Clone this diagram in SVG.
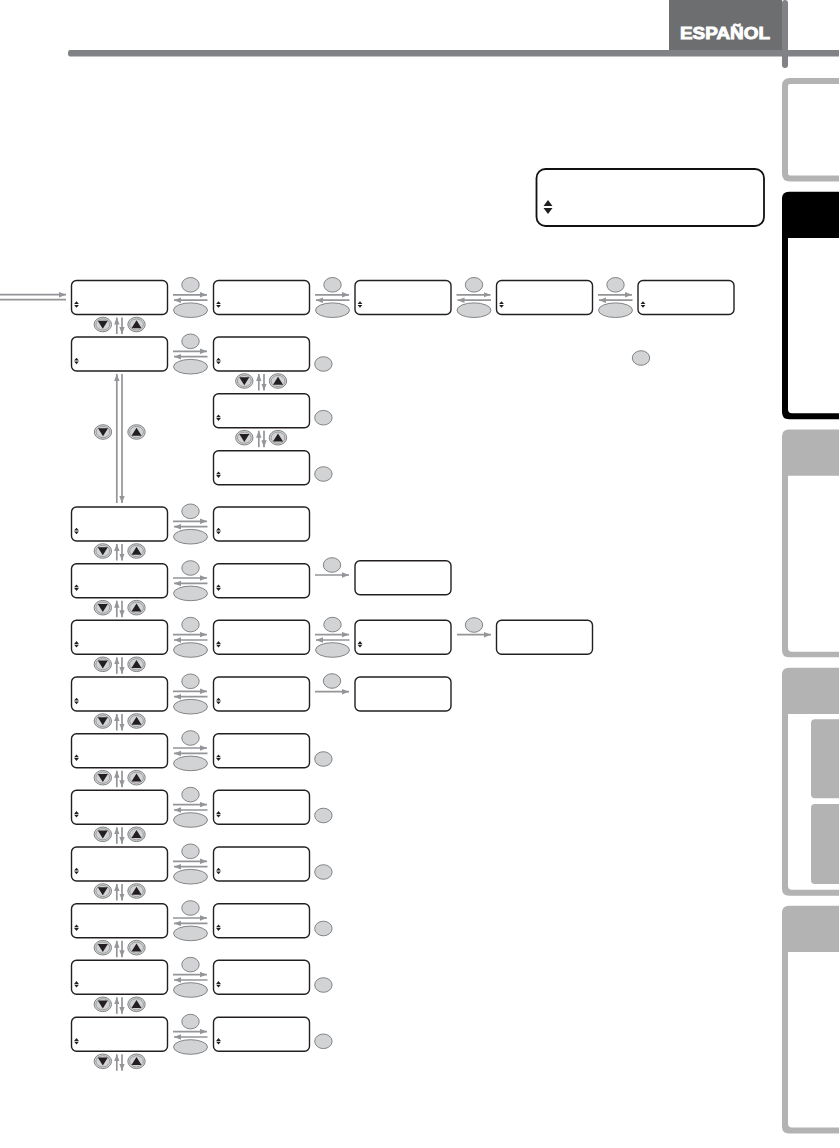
<svg xmlns="http://www.w3.org/2000/svg" width="840" height="1148" viewBox="0 0 840 1148">
<style>
.box{fill:#fff;stroke:#231f20;stroke-width:1.4}
.big{fill:#fff;stroke:#111;stroke-width:1.8}
.btn{fill:#d1d3d4;stroke:#77787b;stroke-width:.9}
.arr{fill:none;stroke:#939598;stroke-width:1.7}
.tab{fill:#fff;stroke:#b3b3b3;stroke-width:6}
.fill{fill:#b3b3b3}
.tri{fill:#231f20}
</style>
<defs>
<marker id="h" markerUnits="userSpaceOnUse" markerWidth="8" markerHeight="6" refX="7" refY="3" orient="auto"><path d="M0 0.300L7 3L0 5.700z" fill="#939598"/></marker>
<g id="ind"><path class="tri" d="M0 -3.200L2.400 -.4H-2.400zM0 3.200L2.400 .4H-2.400z"/></g>
<g id="lcd"><rect class="box" width="96" height="34" rx="5"/><use href="#ind" x="5" y="24"/></g>
<rect id="lcd0" class="box" width="96" height="34" rx="5"/>
<ellipse id="s" class="btn" rx="8.700" ry="7.300"/>
<ellipse id="l" class="btn" rx="17" ry="7.300"/>
<g id="dn"><ellipse class="btn" rx="8.700" ry="7.300"/><ellipse fill="none" stroke="#77787b" stroke-width=".6" rx="6.900" ry="5.600"/><path class="tri" d="M-5 -3.800H5L0 4.200z"/></g>
<g id="up"><ellipse class="btn" rx="8.700" ry="7.300"/><ellipse fill="none" stroke="#77787b" stroke-width=".6" rx="6.900" ry="5.600"/><path class="tri" d="M-5 3.800H5L0 -4.200z"/></g>
<g id="hp"><path class="arr" d="M173 14.300H207" marker-end="url(#h)"/><path class="arr" d="M207.500 19.700H174" marker-end="url(#h)"/></g>
<g id="vp"><path class="arr" d="M45.300 53.500V37" marker-end="url(#h)"/><path class="arr" d="M50.500 37V53.500" marker-end="url(#h)"/></g>
<g id="hb"><use href="#s" x="190.500" y="4.300"/><use href="#l" x="190.500" y="29.700"/></g>
<g id="vb"><use href="#dn" x="31.300" y="44"/><use href="#up" x="65" y="44"/></g>
</defs>

<g id="header">
<rect x="669" y="0" width="113" height="50" fill="#6d6e70"/>
<path d="M70 50H839V56.500H70Q68 56.500 68 53.250Q68 50 70 50z" fill="#808285"/>
<rect x="782" y="0" width="6" height="68" rx="3" fill="#808285"/>
<text x="680" y="39.300" font-family="'Liberation Sans',sans-serif" font-weight="700" font-size="17" fill="#fff" stroke="#fff" stroke-width=".9" textLength="90" lengthAdjust="spacingAndGlyphs">ESPAÑOL</text>
</g>

<g id="tabs">
<path class="tab" d="M839 81H790Q785 81 785 86V173.500Q785 178.500 790 178.500H839"/>
<path d="M839 191.700H789Q782 191.700 782 198.700V412.300Q782 419.300 789 419.300H839V413.300H792Q788 413.300 788 409.300V238H839z" fill="#000"/>
<path class="fill" d="M839 429.500H789Q782 429.500 782 436.500V650.300Q782 657.300 789 657.300H839V651.700H792Q788 651.700 788 647.700V475.700H839z"/>
<path class="fill" d="M839 667.700H789Q782 667.700 782 674.700V888.700Q782 895.700 789 895.700H839V889.700H792Q788 889.700 788 885.700V714H839z"/>
<path class="fill" d="M839 905.700H789Q782 905.700 782 912.700V1126.500Q782 1133.500 789 1133.500H839V1127.500H792Q788 1127.500 788 1123.500V952H839z"/>
<path class="fill" d="M839 719.300H815Q811 719.300 811 723.300V794.300Q811 798.300 815 798.300H839z"/>
<path class="fill" d="M839 804H815Q811 804 811 808V880Q811 884 815 884H839z"/>
</g>

<g id="connectors">
<path class="arr" d="M0 294.700H66" marker-end="url(#h)"/>
<path class="arr" d="M0 299.700H66"/>
<use href="#hp" x="0" y="280.500"/>
<use href="#hp" x="142" y="280.500"/>
<use href="#hp" x="283.500" y="280.500"/>
<use href="#hp" x="425" y="280.500"/>
<use href="#hp" x="0" y="337"/>
<use href="#hp" x="0" y="507"/>
<use href="#hp" x="0" y="563.700"/>
<use href="#hp" x="0" y="620.300"/>
<use href="#hp" x="142" y="620.300"/>
<use href="#hp" x="0" y="677"/>
<use href="#hp" x="0" y="733.700"/>
<use href="#hp" x="0" y="790.300"/>
<use href="#hp" x="0" y="847"/>
<use href="#hp" x="0" y="903.700"/>
<use href="#hp" x="0" y="960.300"/>
<use href="#hp" x="0" y="1017.300"/>
<path class="arr" d="M315 575H349" marker-end="url(#h)"/>
<path class="arr" d="M457 634.700H491" marker-end="url(#h)"/>
<path class="arr" d="M315 691.700H349" marker-end="url(#h)"/>
<use href="#vp" x="71.500" y="280.500"/>
<use href="#vp" x="71.500" y="507"/>
<use href="#vp" x="71.500" y="563.700"/>
<use href="#vp" x="71.500" y="620.300"/>
<use href="#vp" x="71.500" y="677"/>
<use href="#vp" x="71.500" y="733.700"/>
<use href="#vp" x="71.500" y="790.300"/>
<use href="#vp" x="71.500" y="847"/>
<use href="#vp" x="71.500" y="903.700"/>
<use href="#vp" x="71.500" y="960.300"/>
<use href="#vp" x="71.500" y="1017.300"/>
<use href="#vp" x="213.500" y="337"/>
<use href="#vp" x="213.500" y="393.700"/>
<path class="arr" d="M116.800 503V374" marker-end="url(#h)"/>
<path class="arr" d="M122 374V503" marker-end="url(#h)"/>
</g>

<g id="display" transform="translate(536.500,169)"><rect class="big" width="227.500" height="57" rx="9"/><path class="tri" d="M11.500 31L16 37H7zM11.500 45L16 39H7z"/></g>

<g id="nodes">
<use id="n1a" href="#lcd" x="71.500" y="280.500"/>
<use id="n1b" href="#lcd" x="213.500" y="280.500"/>
<use id="n1c" href="#lcd" x="355" y="280.500"/>
<use id="n1d" href="#lcd" x="496.500" y="280.500"/>
<use id="n1e" href="#lcd" x="638" y="280.500"/>
<use id="n2a" href="#lcd" x="71.500" y="337"/>
<use id="n2b" href="#lcd" x="213.500" y="337"/>
<use id="n2c" href="#lcd" x="213.500" y="393.700"/>
<use id="n2d" href="#lcd" x="213.500" y="450.700"/>
<use id="n3a" href="#lcd" x="71.500" y="507"/>
<use id="n3b" href="#lcd" x="213.500" y="507"/>
<use id="n4a" href="#lcd" x="71.500" y="563.700"/>
<use id="n4b" href="#lcd" x="213.500" y="563.700"/>
<use id="n4c" href="#lcd0" x="355" y="560.700"/>
<use id="n5a" href="#lcd" x="71.500" y="620.300"/>
<use id="n5b" href="#lcd" x="213.500" y="620.300"/>
<use id="n5c" href="#lcd" x="355" y="620.300"/>
<use id="n5d" href="#lcd0" x="496.500" y="620.300"/>
<use id="n6a" href="#lcd" x="71.500" y="677"/>
<use id="n6b" href="#lcd" x="213.500" y="677"/>
<use id="n6c" href="#lcd0" x="355" y="677"/>
<use id="n7a" href="#lcd" x="71.500" y="733.700"/>
<use id="n7b" href="#lcd" x="213.500" y="733.700"/>
<use id="n8a" href="#lcd" x="71.500" y="790.300"/>
<use id="n8b" href="#lcd" x="213.500" y="790.300"/>
<use id="n9a" href="#lcd" x="71.500" y="847"/>
<use id="n9b" href="#lcd" x="213.500" y="847"/>
<use id="n10a" href="#lcd" x="71.500" y="903.700"/>
<use id="n10b" href="#lcd" x="213.500" y="903.700"/>
<use id="n11a" href="#lcd" x="71.500" y="960.300"/>
<use id="n11b" href="#lcd" x="213.500" y="960.300"/>
<use id="n12a" href="#lcd" x="71.500" y="1017.300"/>
<use id="n12b" href="#lcd" x="213.500" y="1017.300"/>
</g>

<g id="buttons">
<use href="#hb" x="0" y="280.500"/>
<use href="#hb" x="142" y="280.500"/>
<use href="#hb" x="283.500" y="280.500"/>
<use href="#hb" x="425" y="280.500"/>
<use href="#hb" x="0" y="337"/>
<use href="#hb" x="0" y="507"/>
<use href="#hb" x="0" y="563.700"/>
<use href="#hb" x="0" y="620.300"/>
<use href="#hb" x="142" y="620.300"/>
<use href="#hb" x="0" y="677"/>
<use href="#hb" x="0" y="733.700"/>
<use href="#hb" x="0" y="790.300"/>
<use href="#hb" x="0" y="847"/>
<use href="#hb" x="0" y="903.700"/>
<use href="#hb" x="0" y="960.300"/>
<use href="#hb" x="0" y="1017.300"/>
<use href="#s" x="332" y="565"/>
<use href="#s" x="474" y="625"/>
<use href="#s" x="332" y="681"/>
<use href="#s" x="641" y="358"/>
<use href="#s" x="323.400" y="364"/>
<use href="#s" x="323.400" y="417.700"/>
<use href="#s" x="323.400" y="474"/>
<use href="#s" x="323.400" y="759"/>
<use href="#s" x="323.400" y="815.500"/>
<use href="#s" x="323.400" y="872"/>
<use href="#s" x="323.400" y="928.500"/>
<use href="#s" x="323.400" y="985"/>
<use href="#s" x="323.400" y="1041.300"/>
<use href="#vb" x="71.500" y="280.500"/>
<use href="#vb" x="71.500" y="507"/>
<use href="#vb" x="71.500" y="563.700"/>
<use href="#vb" x="71.500" y="620.300"/>
<use href="#vb" x="71.500" y="677"/>
<use href="#vb" x="71.500" y="733.700"/>
<use href="#vb" x="71.500" y="790.300"/>
<use href="#vb" x="71.500" y="847"/>
<use href="#vb" x="71.500" y="903.700"/>
<use href="#vb" x="71.500" y="960.300"/>
<use href="#vb" x="71.500" y="1017.300"/>
<use href="#vb" x="213" y="337"/>
<use href="#vb" x="213" y="393.700"/>
<use href="#dn" x="103" y="432"/>
<use href="#up" x="136.500" y="432"/>
</g>
</svg>
